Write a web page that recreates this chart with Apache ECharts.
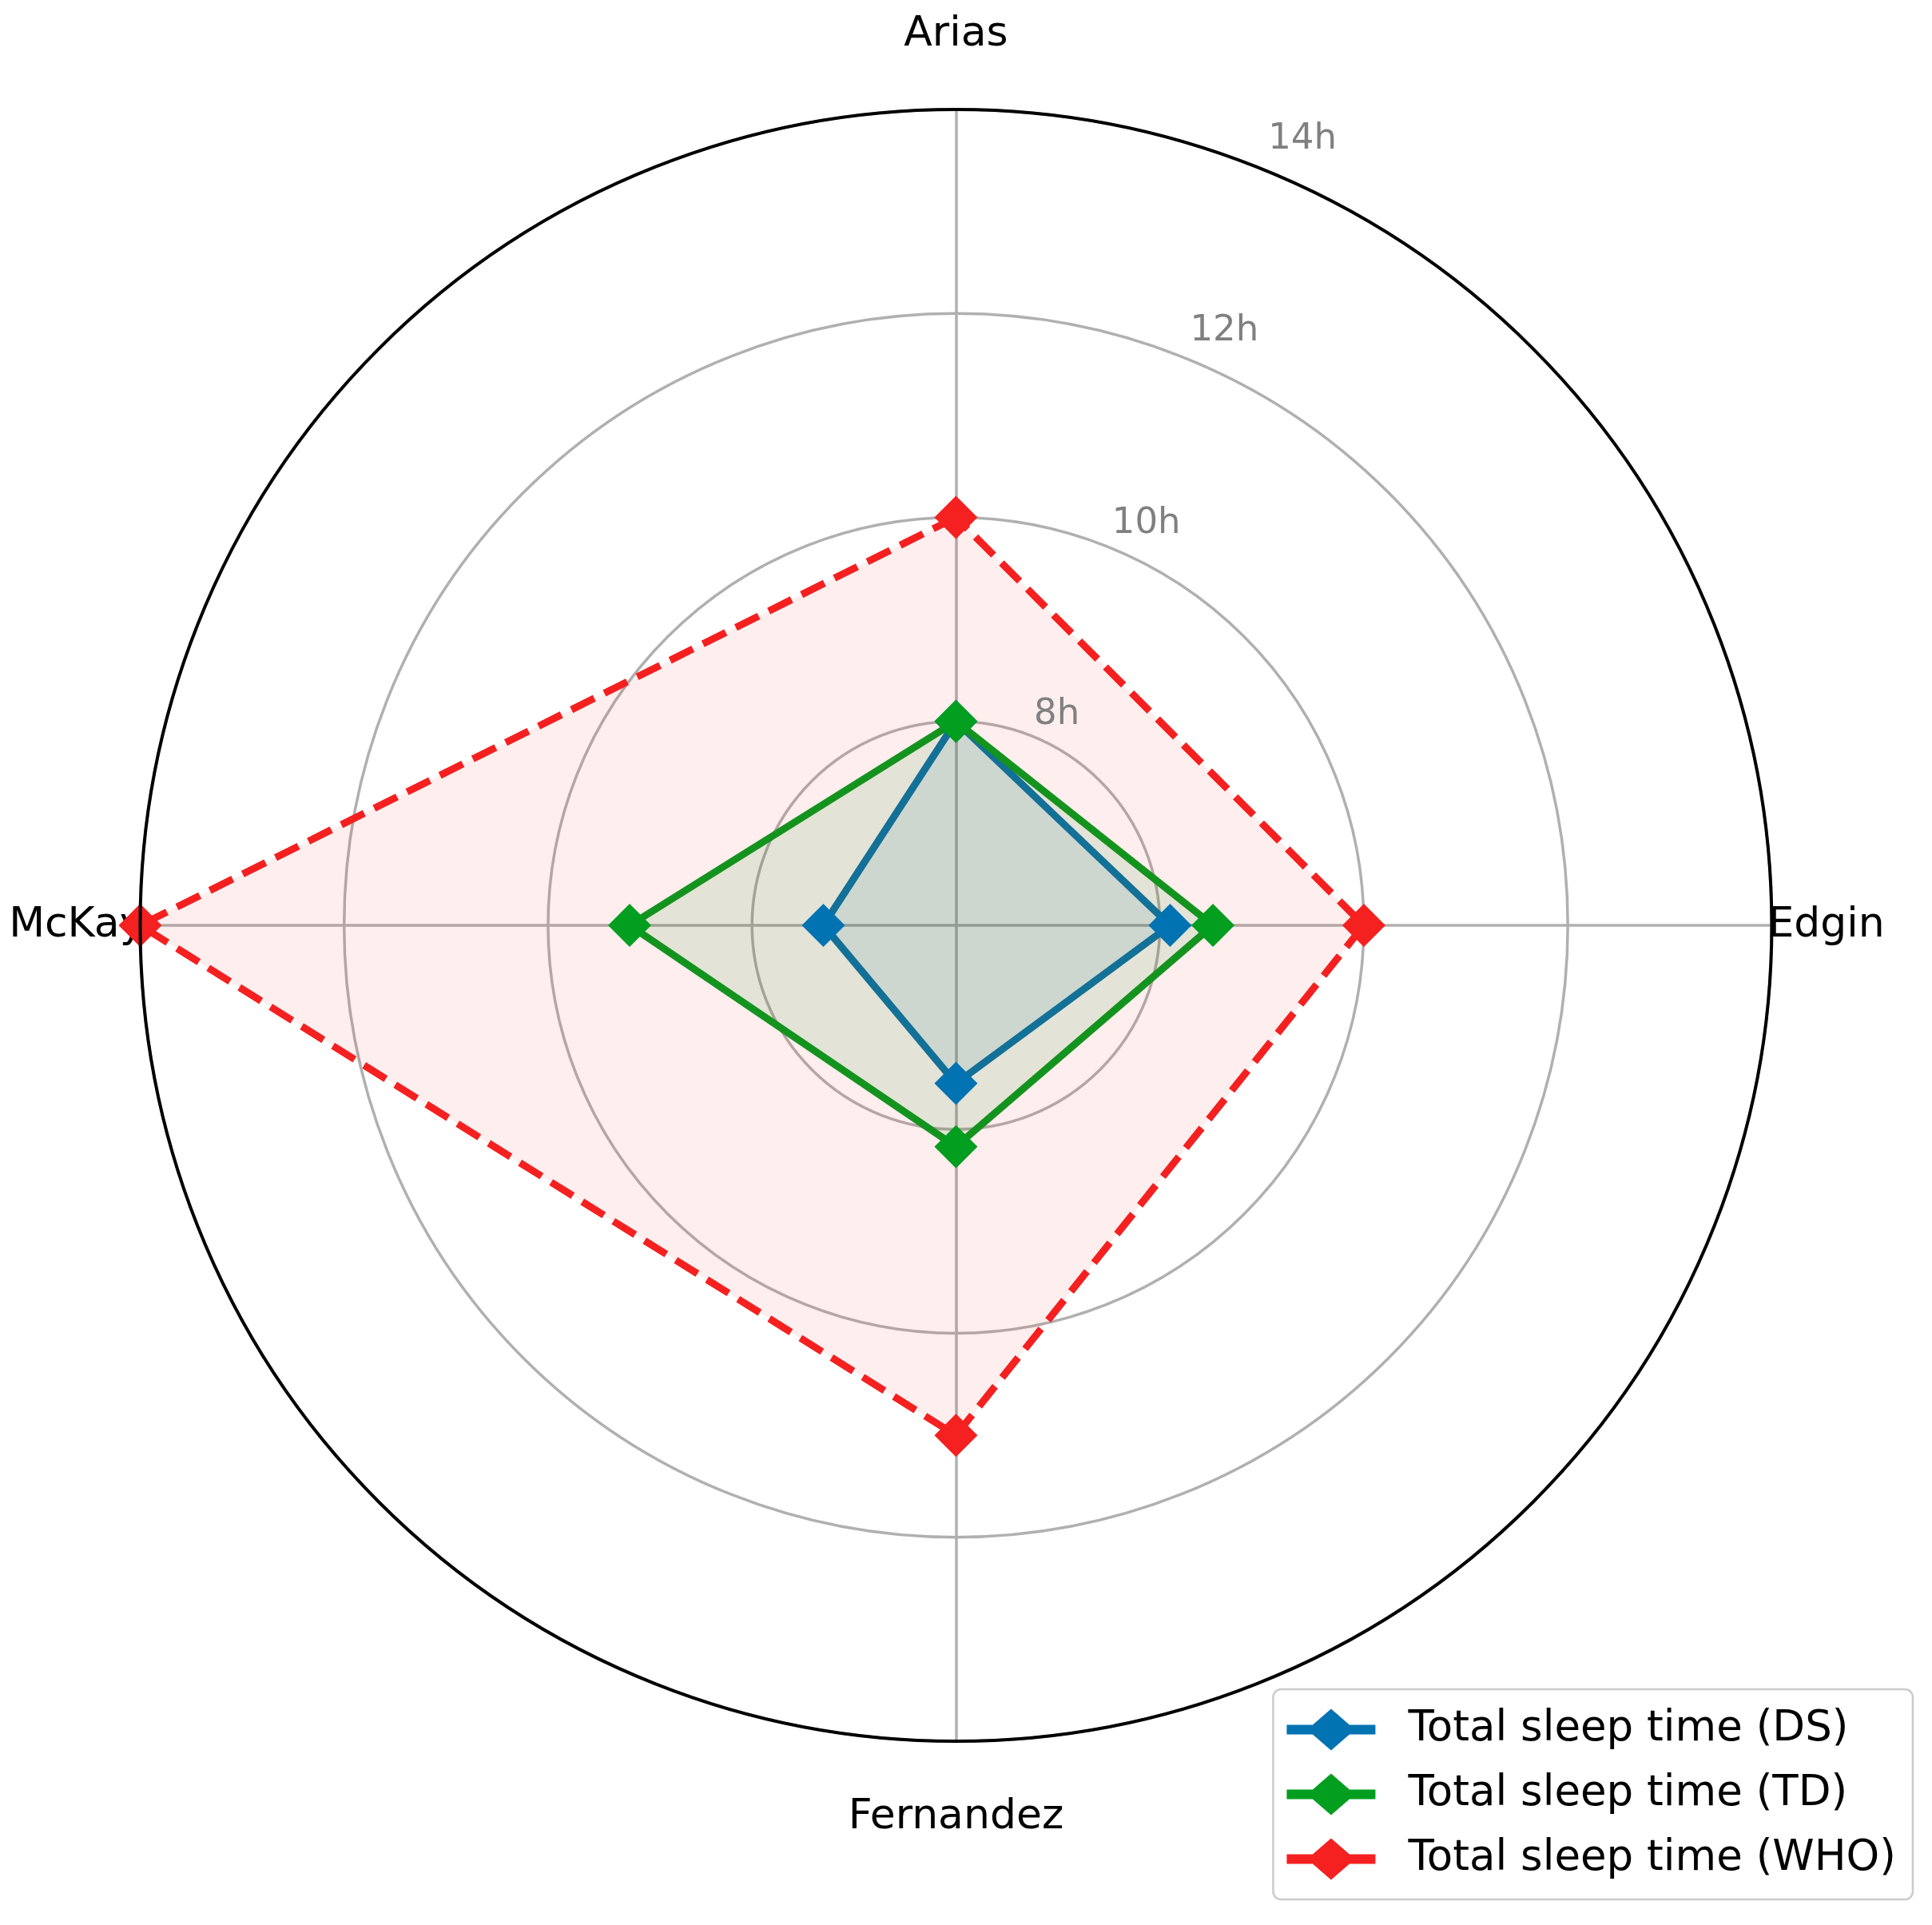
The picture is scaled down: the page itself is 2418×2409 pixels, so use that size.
<!DOCTYPE html>
<html>
<head>
<meta charset="utf-8">
<script src="https://cdn.jsdelivr.net/npm/echarts@6/dist/echarts.min.js"></script>
<style>html,body{margin:0;padding:0;background:#fff}#c{width:2418px;height:2409px}</style>
</head>
<body>
<div id="c"></div>
<script>
// Indicators listed counter-clockwise from the top (ECharts radar order)
const categories = ['Arias', 'McKay', 'Fernandez', 'Edgin'];
const seriesNames = ['Total sleep time (DS)', 'Total sleep time (TD)', 'Total sleep time (WHO)'];
const dsValues = [8.0, 7.3, 7.55, 8.1];
const tdValues = [8.0, 9.2, 8.17, 8.52];
const whoValues = [10, 14, 11, 10];
const tickLabels = ['8h', '10h', '12h', '14h'];
const tickValues = [8, 10, 12, 14];
const axisMin = 6, axisMax = 14;

const FONT = 'DejaVu Sans';
const CENTER = ['49.48%', '48.07%'];
const RADIUS = 1021;
const GRID = '#b0b0b0';
const colors = ['#0173b2', '#029e1f', '#f52020'];
const legendIcon = 'path://M0,20 L32.5,20 L55.5,0 L78.5,20 L111,20 L111,32 L78.5,32 L55.5,52 L32.5,32 L0,32 Z';
const tickLift = [5, 9, 14, 18];

function mkSeries(name, values, color, dashed, alpha) {
  return {
    type: 'radar',
    name: name,
    symbol: 'diamond',
    symbolSize: 54,
    z: 3,
    emphasis: { disabled: true },
    itemStyle: { color: color },
    lineStyle: { color: color, width: 9, type: dashed ? [32, 14] : 'solid' },
    areaStyle: { color: color, opacity: alpha },
    data: [{ value: values, name: name }]
  };
}

const rich = {};
tickLabels.forEach((t, i) => {
  rich['t' + i] = { color: '#808080', fontSize: 45, fontFamily: FONT, padding: [0, 0, tickLift[i], 0] };
});

const chart = echarts.init(document.getElementById('c'));
chart.setOption({
  backgroundColor: '#fff',
  animation: false,
  textStyle: { fontFamily: FONT },
  radar: {
    center: CENTER,
    radius: RADIUS,
    shape: 'circle',
    splitNumber: 4,
    startAngle: 90,
    indicator: categories.map(n => ({ name: n, min: axisMin, max: axisMax })),
    axisNameGap: -5,
    axisName: {
      color: '#000',
      fontSize: 52,
      fontFamily: FONT,
      padding: [74, 0, 73, 0]
    },
    axisLine: { lineStyle: { color: GRID, width: 3.5 } },
    axisTick: { show: false },
    axisLabel: { show: false },
    splitLine: { lineStyle: { color: GRID, width: 3.5 } },
    splitArea: { show: false }
  },
  polar: { center: CENTER, radius: RADIUS },
  angleAxis: {
    type: 'value',
    min: 0,
    max: 360,
    startAngle: 67.5,
    z: 10,
    axisLine: { show: true, lineStyle: { color: '#000', width: 4 } },
    axisTick: { show: false },
    axisLabel: { show: false },
    splitLine: { show: false }
  },
  radiusAxis: {
    type: 'value',
    min: axisMin,
    max: axisMax,
    interval: 2,
    z: 10,
    axisLine: { show: false },
    axisTick: { show: false },
    splitLine: { show: false },
    axisLabel: {
      formatter: function (v) {
        const i = tickValues.indexOf(v);
        return i >= 0 ? '{t' + i + '|' + tickLabels[i] + '}' : '';
      },
      rich: rich,
      color: '#808080',
      fontSize: 45,
      fontFamily: FONT,
      align: 'left',
      verticalAlign: 'bottom',
      margin: 0
    }
  },
  legend: {
    orient: 'vertical',
    right: 24,
    bottom: 32,
    itemWidth: 111,
    itemHeight: 52,
    itemGap: 28,
    padding: [24, 21, 24, 17],
    backgroundColor: '#fff',
    borderColor: '#cccccc',
    borderWidth: 2.5,
    borderRadius: 10,
    selectedMode: false,
    textStyle: { fontSize: 53, fontFamily: FONT, color: '#000', padding: [0, 0, 0, 36] },
    data: seriesNames.map((n, i) => ({ name: n, icon: legendIcon, itemStyle: { color: colors[i] } }))
  },
  series: [
    mkSeries(seriesNames[0], dsValues, colors[0], false, 0.11),
    mkSeries(seriesNames[1], tdValues, colors[1], false, 0.11),
    mkSeries(seriesNames[2], whoValues, colors[2], true, 0.08)
  ]
});
</script>
</body>
</html>
